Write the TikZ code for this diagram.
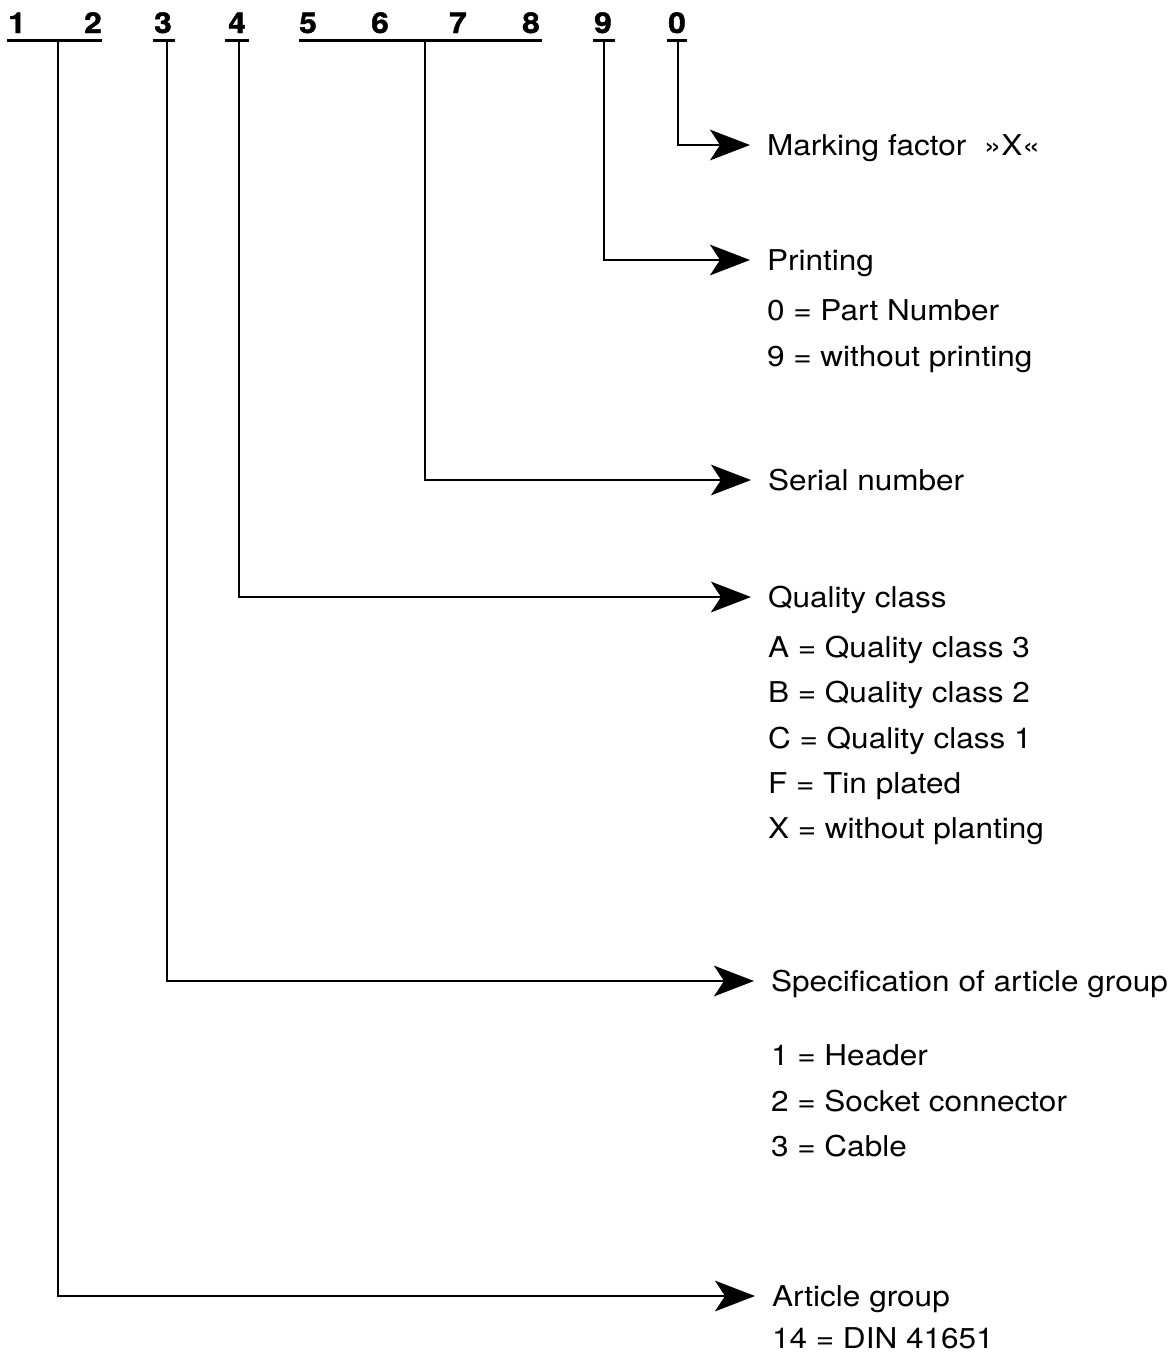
\documentclass[tikz,border=0pt]{standalone}
\usepackage{fontspec}
\setmainfont{TeX Gyre Heros}[FakeStretch=1.1]
\newfontfamily\digitfont{texgyreheros-bold.otf}[FakeStretch=1.1,FakeBold=1.6]
\usetikzlibrary{arrows.meta}
\tikzset{every picture/.style={line width=1.5pt}}
\tikzset{
  digit/.style={font=\digitfont\fontsize{21.5}{21.5}\selectfont, inner sep=0pt, anchor=base},
  uline/.style={line width=2.3pt},
  fieldtext/.style={font=\fontsize{21.5}{34}\selectfont, inner sep=0pt, anchor=west, text height=15.4pt, text depth=0pt},
  fieldvals/.style={font=\fontsize{21.5}{34}\selectfont, inner sep=0pt, anchor=north west, align=left},
  link/.style={-{Stealth[length=30pt,width=23pt,inset=7.5pt]}, shorten >=12pt},
}
\begin{document}
\begin{tikzpicture}[x=0.75pt,y=0.75pt,yscale=-1,xscale=1]

\useasboundingbox (0,0) rectangle (1173,1354);

% Digits of the part number
\node[digit] (d1) at (17,33) {1};
\node[digit] (d2) at (93,33) {2};
\node[digit] (d3) at (163,33) {3};
\node[digit] (d4) at (237,33) {4};
\node[digit] (d5) at (308,33) {5};
\node[digit] (d6) at (380,33) {6};
\node[digit] (d7) at (458,33) {7};
\node[digit] (d8) at (531,33) {8};
\node[digit] (d9) at (603,33) {9};
\node[digit] (d0) at (677,33) {0};

% Underlines
\draw[uline] (7,40.5) -- (102,40.5);
\draw[uline] (153,40.5) -- (175,40.5);
\draw[uline] (225,40.5) -- (249,40.5);
\draw[uline] (299,40.5) -- (542,40.5);
\draw[uline] (593,40.5) -- (615,40.5);
\draw[uline] (667,40.5) -- (687,40.5);

\coordinate (s12) at (58,40.5);
\coordinate (s3) at (167,40.5);
\coordinate (s4) at (239,40.5);
\coordinate (s5678) at (425,40.5);
\coordinate (s9) at (604,40.5);
\coordinate (s0) at (678,40.5);

% Text Node
\node[fieldtext] (mark) at (766,145) {Marking factor\ \ »X«};
% Text Node
\node[fieldtext] (print) at (766,260) {Printing};
\node[fieldvals] (printval) at (766,299) {0 = Part Number\\9 = without printing};
% Text Node
\node[fieldtext] (serial) at (767,480) {Serial number};
% Text Node
\node[fieldtext] (qual) at (767,597) {Quality class};
\node[fieldvals] (qualval) at (767,635) {A = Quality class 3\\B = Quality class 2\\C = Quality class 1\\F = Tin plated\\X = without planting};
% Text Node
\node[fieldtext] (spec) at (770,981) {Specification of article group};
\node[fieldvals] (specval) at (770,1044) {1 = Header\\2 = Socket connector\\3 = Cable};
% Text Node
\node[fieldtext] (artgrp) at (771,1296) {Article group};
\node[fieldvals] (artval) at (771,1327) {14 = DIN 41651};

% Connection
\draw[link] (s0) |- (mark);
% Connection
\draw[link] (s9) |- (print);
% Connection
\draw[link] (s5678) |- (serial);
% Connection
\draw[link] (s4) |- (qual);
% Connection
\draw[link] (s3) |- (spec);
% Connection
\draw[link] (s12) |- (artgrp);

\end{tikzpicture}
\end{document}
